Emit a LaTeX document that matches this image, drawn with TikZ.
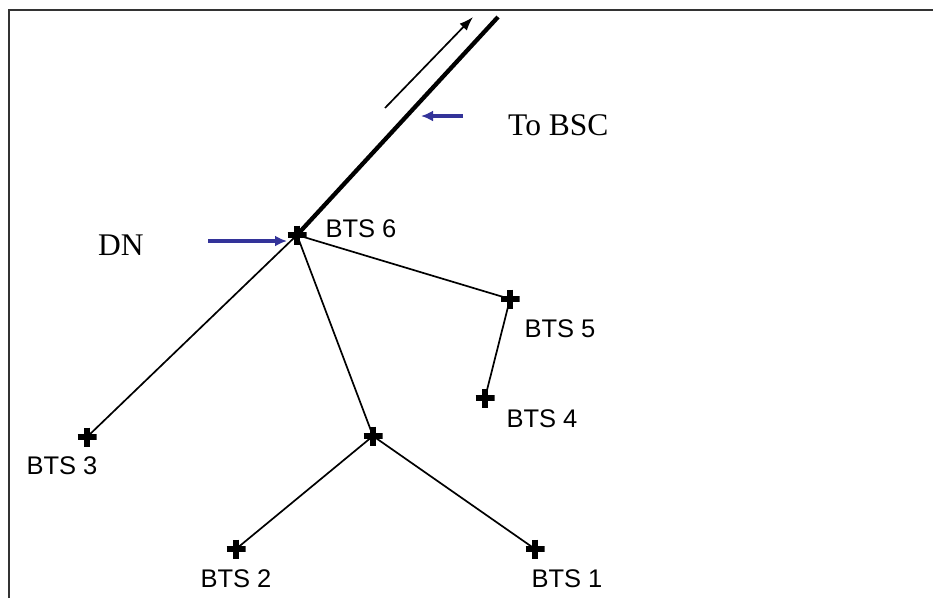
\documentclass[tikz,border=0pt]{standalone}
\usepackage{fontspec}
\setmainfont{Liberation Serif}
\newfontfamily\arialfont{Liberation Sans}
\usetikzlibrary{arrows.meta}
\definecolor{pointblue}{RGB}{51,51,153}
\begin{document}
\begin{tikzpicture}[x=1pt, y=-1pt]
	\tikzstyle{bts} = [inner sep=0pt, minimum size=19pt, path picture={
		\draw[line width=5.2pt] (path picture bounding box.west) -- (path picture bounding box.east)
			(path picture bounding box.north) -- (path picture bounding box.south);}];
	\tikzstyle{sitelabel} = [inner sep=0pt, font={\arialfont\fontsize{25.5}{30}\selectfont}];
	\tikzstyle{info} = [inner sep=0pt, anchor=base west, font={\fontsize{31.5}{36}\selectfont}];
	\tikzstyle{link} = [line width=1.7pt];
	\tikzstyle{trunk} = [line width=4.3pt];
	\tikzstyle{flow} = [-{Latex[length=14pt, width=10pt]}, line width=1.7pt];
	\tikzstyle{point} = [-{Latex[length=12pt, width=11pt]}, line width=3.2pt, color=pointblue];
	\tikzstyle{frame} = [line width=2.2pt, color=black!80];

	\useasboundingbox (0,0) rectangle (933,598);
	\draw[frame] (9,598) -- (9,10) -- (933,10);

	% sites
	\foreach \id/\x/\y in {6/297/235, 5/510/299, 4/485/398, 3/87/437, j/373/436, 2/236/549, 1/535/549} {
		\node[bts] (b\id) at (\x,\y) {};
	}

	\foreach \id/\x/\y in {6/361/229, 5/560/329, 4/542/419, 3/62/466, 2/236/579, 1/567/579} {
		\node[sitelabel] (n\id) at (\x,\y) {BTS \id};
	}

	% links
	\foreach \a/\b in {6/3, 6/j, 6/5, 5/4, j/2, j/1} {
		\draw[link] (b\a.center) -- (b\b.center);
	}

	% uplink
	\coordinate (up) at (498,17);
	\draw[trunk] (b6.center) -- (up);
	\coordinate (upa) at (385,108);
	\coordinate (upb) at (473,17);
	\draw[flow] (upa) -- (upb);

	% notes
	\node[info] (bsc) at (508,135) {To BSC};
	\node[info] (dn) at (98,255) {DN};
	\coordinate (bsca) at (463,116);
	\coordinate (bscb) at (421,116);
	\draw[point] (bsca) -- (bscb);
	\coordinate (dna) at (208,241);
	\coordinate (dnb) at (287,241);
	\draw[point] (dna) -- (dnb);
\end{tikzpicture}
\end{document}
